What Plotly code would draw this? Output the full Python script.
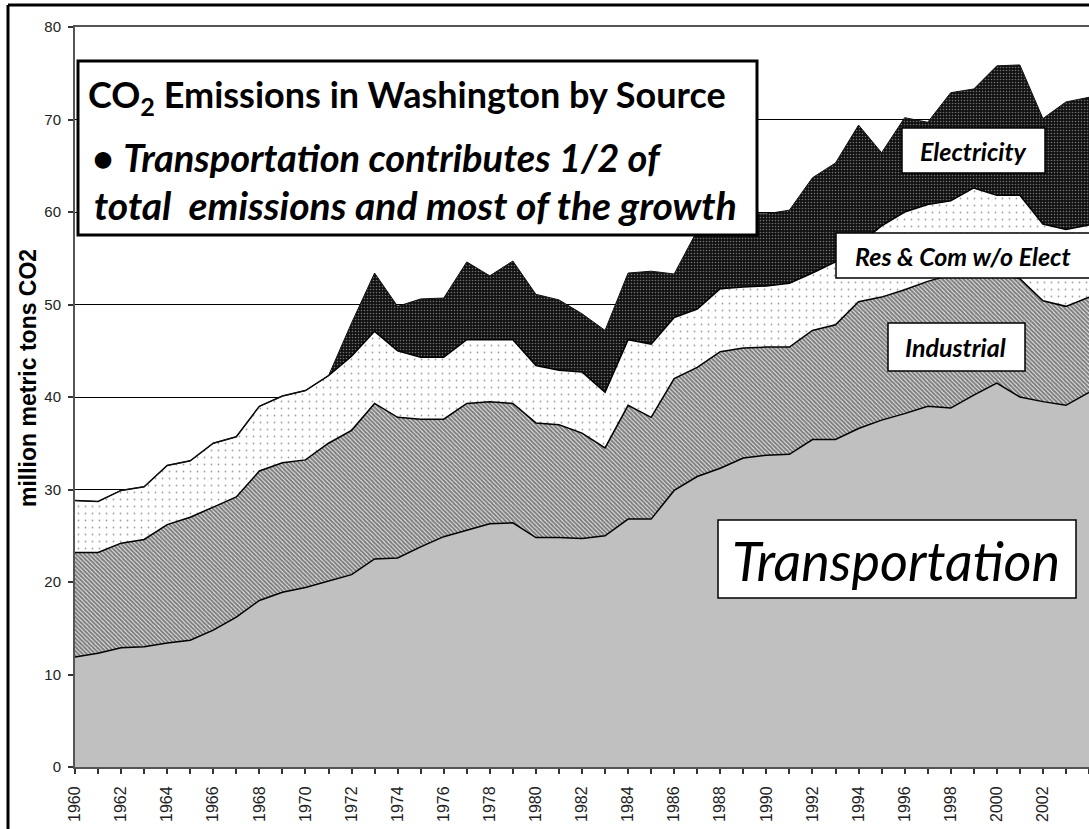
import plotly.graph_objects as go

years = list(range(1960, 2005))

transportation = [11.9, 12.3, 12.9, 13.0, 13.4, 13.7, 14.8, 16.2, 18.0, 18.9,
                  19.4, 20.1, 20.8, 22.5, 22.6, 23.8, 24.9, 25.6, 26.3, 26.4,
                  24.8, 24.8, 24.7, 25.0, 26.8, 26.8, 29.9, 31.4, 32.3, 33.4,
                  33.7, 33.8, 35.4, 35.4, 36.6, 37.5, 38.2, 39.0, 38.8, 40.2,
                  41.5, 40.0, 39.5, 39.1, 40.5]
industrial = [11.3, 10.9, 11.3, 11.6, 12.8, 13.3, 13.3, 13.0, 14.0, 14.0,
              13.8, 14.9, 15.6, 16.8, 15.2, 13.8, 12.7, 13.7, 13.2, 12.9,
              12.4, 12.2, 11.4, 9.5, 12.3, 11.0, 12.1, 11.8, 12.6, 11.9,
              11.7, 11.6, 11.8, 12.4, 13.7, 13.3, 13.4, 13.5, 14.4, 13.3,
              11.8, 12.8, 10.9, 10.7, 10.3]
res_com = [5.6, 5.5, 5.7, 5.7, 6.4, 6.1, 6.9, 6.5, 7.0, 7.2,
           7.5, 7.3, 8.0, 7.8, 7.2, 6.7, 6.7, 6.9, 6.7, 6.9,
           6.2, 5.9, 6.6, 6.0, 7.1, 7.9, 6.6, 6.3, 6.8, 6.6,
           6.6, 6.9, 6.2, 6.8, 6.2, 7.7, 8.4, 8.3, 8.0, 9.1,
           8.5, 9.0, 8.3, 8.3, 7.8]
electricity = [0, 0, 0, 0, 0, 0, 0, 0, 0, 0,
               0, 0, 3.6, 6.3, 4.8, 6.3, 6.4, 8.4, 6.9, 8.5,
               7.7, 7.6, 6.3, 6.7, 7.2, 7.9, 4.7, 8.5, 7.5, 7.9,
               7.8, 7.9, 10.3, 10.7, 12.9, 7.9, 10.2, 8.9, 11.7, 10.7,
               14.0, 14.1, 11.4, 13.8, 13.8]

tick_years = years[::2]
tick_labels = [str(y) for y in tick_years]

title_line1 = "CO<sub>2</sub> Emissions in Washington by Source"
title_line2 = "\u2022 <i>Transportation contributes 1/2 of</i>"
title_line3 = "<i>total  emissions and most of the growth</i>"
y_title = "million metric tons CO2"

LAB_FONT = "Lato"

fig = go.Figure()
fig.add_trace(go.Scatter(
    x=years, y=transportation, name="Transportation", stackgroup="one",
    mode="lines", line=dict(color="black", width=1.5),
    fillcolor="#C0C0C0"))
fig.add_trace(go.Scatter(
    x=years, y=industrial, name="Industrial", stackgroup="one",
    mode="lines", line=dict(color="black", width=1.5),
    fillpattern=dict(shape="\\", fgcolor="black", bgcolor="white",
                     size=3, solidity=0.75)))
fig.add_trace(go.Scatter(
    x=years, y=res_com, name="Res & Com w/o Elect", stackgroup="one",
    mode="lines", line=dict(color="black", width=1.5),
    fillpattern=dict(shape=".", fgcolor="#444444", bgcolor="white",
                     size=7, solidity=0.05)))
fig.add_trace(go.Scatter(
    x=years, y=electricity, name="Electricity", stackgroup="one",
    mode="lines", line=dict(color="#111111", width=1),
    fillpattern=dict(shape=".", fgcolor="#d0d0d0", bgcolor="#111111",
                     size=3, solidity=0.22)))

W, H = 1089, 829
L, R, T, B = 75, 0, 27, 62
PW, PH = W - L - R, H - T - B


def px(xp):
    return (xp - L) / PW


def py(yp):
    return (H - B - yp) / PH


shapes = [
    # outer chart border: left and top edges (rest is cropped)
    dict(type="line", xref="paper", yref="paper", x0=px(8), x1=px(8),
         y0=py(829), y1=py(5), line=dict(color="black", width=3),
         layer="above"),
    dict(type="line", xref="paper", yref="paper", x0=px(8), x1=px(1089),
         y0=py(5), y1=py(5), line=dict(color="black", width=3),
         layer="above"),
    dict(type="rect", xref="paper", yref="paper", x0=px(78), x1=px(757),
         y0=py(235), y1=py(61), line=dict(color="black", width=3),
         fillcolor="white", layer="above"),
    dict(type="rect", xref="paper", yref="paper", x0=px(902), x1=px(1045),
         y0=py(173), y1=py(128), line=dict(color="black", width=1.5),
         fillcolor="white", layer="above"),
    dict(type="rect", xref="paper", yref="paper", x0=px(836), x1=px(1100),
         y0=py(278), y1=py(233), line=dict(color="black", width=1.5),
         fillcolor="white", layer="above"),
    dict(type="rect", xref="paper", yref="paper", x0=px(888), x1=px(1025),
         y0=py(371), y1=py(323), line=dict(color="black", width=1.5),
         fillcolor="white", layer="above"),
    dict(type="rect", xref="paper", yref="paper", x0=px(718), x1=px(1076),
         y0=py(598), y1=py(520), line=dict(color="black", width=1.5),
         fillcolor="white", layer="above"),
]

annotations = [
    dict(text="<b>" + title_line1 + "</b>", x=px(86), y=py(96),
         xanchor="left", yanchor="middle",
         font=dict(family=LAB_FONT, size=36, color="black")),
    dict(text="<b>" + title_line2 + "</b>", x=px(90), y=py(157),
         xanchor="left", yanchor="middle",
         font=dict(family=LAB_FONT, size=38, color="black")),
    dict(text="<b>" + title_line3 + "</b>", x=px(92), y=py(205),
         xanchor="left", yanchor="middle",
         font=dict(family=LAB_FONT, size=39, color="black")),
    dict(text="<b><i>Electricity</i></b>", x=px(973), y=py(151),
         xanchor="center", yanchor="middle",
         font=dict(family=LAB_FONT, size=25, color="black")),
    dict(text="<b><i>Res &amp; Com w/o Elect</i></b>", x=px(963), y=py(256),
         xanchor="center", yanchor="middle",
         font=dict(family=LAB_FONT, size=25, color="black")),
    dict(text="<b><i>Industrial</i></b>", x=px(955), y=py(347),
         xanchor="center", yanchor="middle",
         font=dict(family=LAB_FONT, size=25, color="black")),
    dict(text="<i>Transportation</i>", x=px(896), y=py(560),
         xanchor="center", yanchor="middle",
         font=dict(family=LAB_FONT, size=54, color="black")),
    dict(text="<b>" + y_title + "</b>", x=px(28), y=py(378),
         xanchor="center", yanchor="middle", textangle=-90,
         font=dict(family="Liberation Sans", size=23, color="black")),
]
for a in annotations:
    a.update(xref="paper", yref="paper", showarrow=False)

fig.update_layout(
    width=W, height=H,
    margin=dict(l=L, r=R, t=T, b=B, pad=0, autoexpand=False),
    paper_bgcolor="white", plot_bgcolor="white",
    showlegend=False,
    shapes=shapes, annotations=annotations,
    xaxis=dict(range=[1960, 2004], tickmode="array", tickvals=tick_years,
               ticktext=tick_labels, tickangle=-90, ticks="outside",
               ticklen=5, tickwidth=1.5, tickcolor="#333",
               minor=dict(ticks="outside", ticklen=5, tickwidth=1.5,
                          tickcolor="#333", dtick=1, tick0=1960),
               showgrid=False, zeroline=False, showline=True,
               linecolor="#555", linewidth=2, mirror=True,
               automargin=False, ticklabelstandoff=6,
               tickfont=dict(family="Liberation Sans", size=16, color="#222")),
    yaxis=dict(range=[0, 80], dtick=10, tick0=0, ticks="outside",
               ticklen=5, tickwidth=1.5, tickcolor="#333",
               showgrid=True, gridcolor="black", gridwidth=1,
               zeroline=False, showline=True, linecolor="#555",
               linewidth=2, mirror=True, automargin=False,
               ticklabelstandoff=4,
               tickfont=dict(family="Liberation Sans", size=15, color="#222")),
)

fig.write_html(
    "out.html",
    config={"displayModeBar": False},
    post_script="document.body.style.margin='0';"
                "document.body.style.overflow='hidden';")
